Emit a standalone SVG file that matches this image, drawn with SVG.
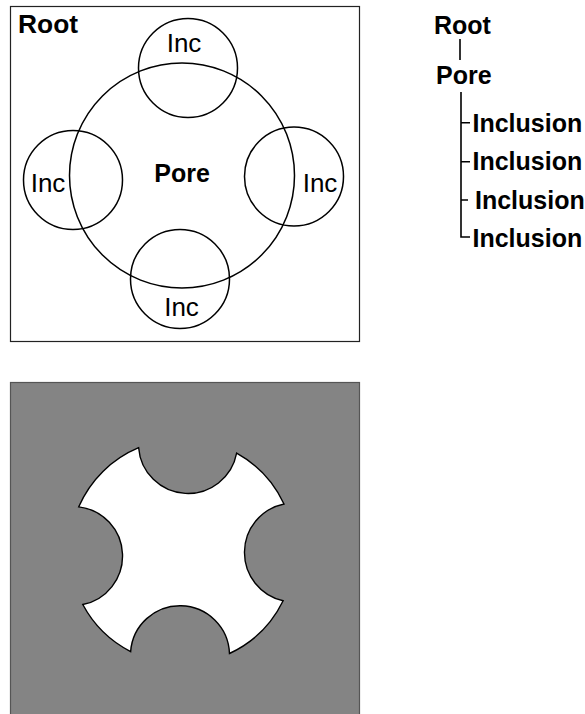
<svg xmlns="http://www.w3.org/2000/svg" width="585" height="714" viewBox="0 0 585 714">
<style>
.bold{font-family:"Liberation Sans",Arial,sans-serif;font-weight:bold;font-size:25px;fill:#000}
.reg{font-family:"Liberation Sans",Arial,sans-serif;font-size:26px;fill:#000}
.circ{fill:none;stroke:#000;stroke-width:1.5}
.tree{fill:none;stroke:#000;stroke-width:1.6}
</style>
<rect width="585" height="714" fill="#fff"/>
<g id="root-box">
<rect x="10.5" y="6.5" width="349" height="335" fill="#fff" stroke="#222" stroke-width="1.2"/>
<text class="bold" x="18" y="33" textLength="60" lengthAdjust="spacingAndGlyphs">Root</text>
</g>
<g id="pore">
<circle class="circ" cx="182" cy="175.5" r="112.5"/>
<text class="bold" x="182" y="182" text-anchor="middle">Pore</text>
</g>
<g id="inc-top">
<circle class="circ" cx="188" cy="68" r="49.5"/>
<text class="reg" x="184" y="51.5" text-anchor="middle">Inc</text>
</g>
<g id="inc-left">
<circle class="circ" cx="73" cy="180" r="49.5"/>
<text class="reg" x="48" y="192" text-anchor="middle">Inc</text>
</g>
<g id="inc-right">
<circle class="circ" cx="294" cy="176.5" r="49.5"/>
<text class="reg" x="320" y="192" text-anchor="middle">Inc</text>
</g>
<g id="inc-bottom">
<circle class="circ" cx="180" cy="279" r="49.5"/>
<text class="reg" x="181.5" y="316" text-anchor="middle">Inc</text>
</g>
<g id="tree-root"><text class="bold" x="434" y="33.5">Root</text></g>
<g id="tree-pore"><text class="bold" x="436" y="83.5">Pore</text></g>
<g id="tree-inc1"><text class="bold" x="472.5" y="131.5">Inclusion</text></g>
<g id="tree-inc2"><text class="bold" x="472.5" y="170">Inclusion</text></g>
<g id="tree-inc3"><text class="bold" x="475" y="208.5">Inclusion</text></g>
<g id="tree-inc4"><text class="bold" x="472.5" y="246.5">Inclusion</text></g>
<g id="connectors">
<path class="tree" d="M460 39 V60"/>
<path class="tree" d="M461 92 V237 H470 M461 122.7 H470 M461 161.7 H470 M461 200 H468"/>
</g>
<g id="solid">
<rect x="10.5" y="382.5" width="349" height="340" fill="#848484" stroke="#555" stroke-width="1.2"/>
<path d="M138.64 447.70 A49.5 49.5 0 0 0 236.64 453.17 A112.5 112.5 0 0 1 283.99 504.02 A49.5 49.5 0 0 0 283.13 600.80 A112.5 112.5 0 0 1 229.47 653.50 A49.5 49.5 0 0 0 130.63 651.59 A112.5 112.5 0 0 1 82.79 604.53 A49.5 49.5 0 0 0 78.75 506.83 A112.5 112.5 0 0 1 138.64 447.70 Z" fill="#fff" stroke="#000" stroke-width="1.4"/>
</g>
</svg>
